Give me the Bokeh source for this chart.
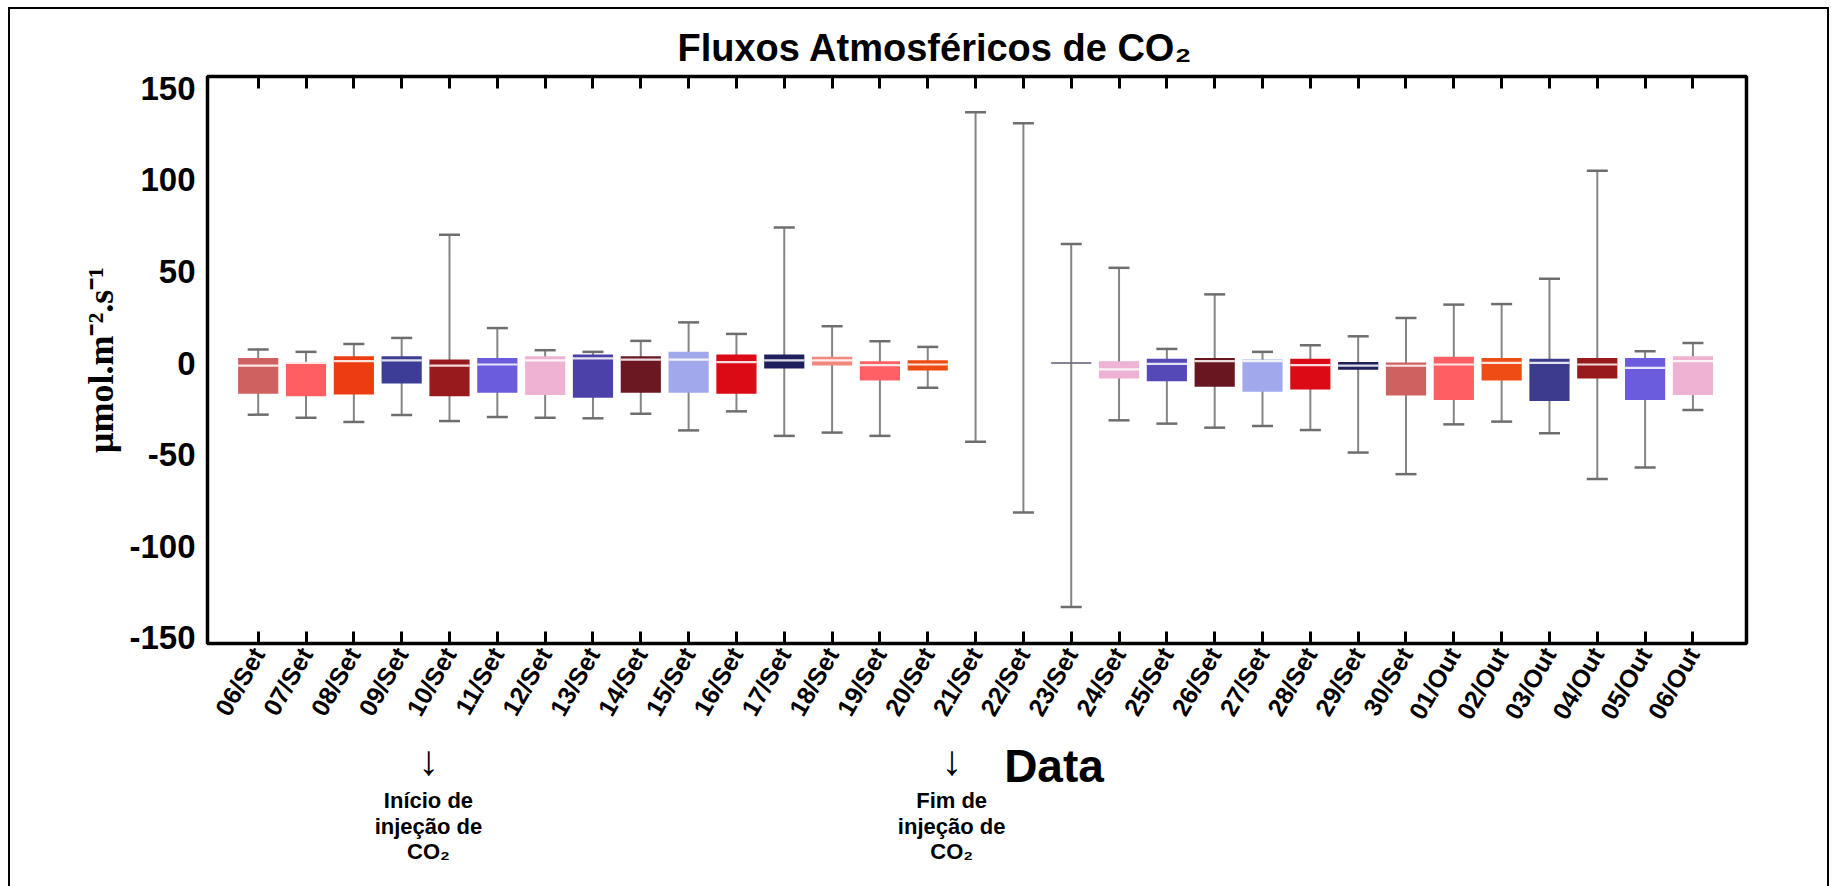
import numpy as np
from bokeh.plotting import figure
from bokeh.layouts import column
from bokeh.models import ColumnDataSource, Range1d, FixedTicker, LinearAxis, Title
from bokeh.core.properties import value
from bokeh.embed import file_html
from bokeh.resources import INLINE

nan = float("nan")

dates = ["06/Set", "07/Set", "08/Set", "09/Set", "10/Set", "11/Set", "12/Set", "13/Set",
         "14/Set", "15/Set", "16/Set", "17/Set", "18/Set", "19/Set", "20/Set", "21/Set",
         "22/Set", "23/Set", "24/Set", "25/Set", "26/Set", "27/Set", "28/Set", "29/Set",
         "30/Set", "01/Out", "02/Out", "03/Out", "04/Out", "05/Out", "06/Out"]

whisker_high = [7.4, 6.1, 10.4, 13.7, 70.0, 19.1, 7.0, 6.1, 12.1, 22.2, 15.9, 74.0, 20.1, 11.9, 8.8,
                137.0, 131.0, 65.0, 52.0, 7.7, 37.5, 6.1, 9.7, 14.6, 24.6, 31.9, 32.2, 46.0, 105.0, 6.4, 11.0]
q3 = [2.8, 0.6, 3.7, 3.7, 1.9, 2.8, 3.7, 4.6, 3.7, 6.1, 4.6, 4.6, 3.4, 1.0, 1.5,
      nan, nan, 0.0, 1.0, 2.3, 2.8, 1.9, 2.3, 0.6, 0.3, 3.4, 2.8, 2.3, 2.8, 2.8, 3.7]
median = [-1.4, 0.1, 1.0, 1.4, -1.4, -0.8, 1.4, 2.5, 1.9, 1.9, 0.5, 1.4, 1.4, -1.2, -0.8,
          nan, nan, 0.0, -3.5, -0.5, 1.0, 1.0, -1.2, -1.4, -1.5, -0.8, 0.1, 0.1, -0.8, -2.6, 1.0]
q1 = [-16.8, -18.1, -17.2, -11.2, -18.1, -16.2, -17.5, -19.0, -16.2, -16.2, -16.8, -3.0, -1.4, -9.5, -4.1,
      nan, nan, 0.0, -8.4, -9.9, -13.0, -15.7, -14.4, -3.7, -17.7, -20.2, -9.5, -20.8, -8.4, -20.2, -17.5]
whisker_low = [-28.2, -29.9, -32.2, -28.4, -31.7, -29.5, -29.9, -30.2, -27.7, -36.8, -26.4, -39.8, -38.0, -39.8, -13.5,
               -43.0, -81.7, -133.3, -31.3, -33.1, -35.3, -34.4, -36.6, -48.9, -60.7, -33.5, -32.0, -38.4, -63.4, -57.1, -25.7]

box_colors = ["#CF6260", "#FF5E62", "#EE3C12", "#3D3C96", "#981A1C", "#6A5CDC", "#F0B2D2", "#4C41A8",
              "#6C1822", "#A1A9EC", "#DC0A14", "#1F1F5E", "#F2877E", "#FF6066", "#EE4C14", "#FFFFFF",
              "#FFFFFF", "#FFFFFF", "#EEB2D4", "#5549B8", "#6A1620", "#A1A9EC", "#DC0A14", "#1F1F5E",
              "#CF6260", "#FF5E62", "#EE4C14", "#3D3C8C", "#981A1C", "#6A5CDC", "#F0B2D2"]
median_colors = ["#FFFFFF"] * 17 + ["#6E6E84"] + ["#FFFFFF"] * 13

y_ticks = [-150, -100, -50, 0, 50, 100, 150]
y_tick_labels = ["-150", "-100", "-50", "0", "50", "100", "150"]

title_text = "Fluxos Atmosféricos de CO₂"
x_title = "Data"
y_title = "μmol.m⁻².s⁻¹"
note_start = ["Início de", "injeção de", "CO₂"]
note_end = ["Fim de", "injeção de", "CO₂"]

xs = np.arange(len(dates))
BOX_W = 0.84

src = ColumnDataSource(dict(
    x=xs, lo=whisker_low, q1=q1, med=median, q3=q3, hi=whisker_high,
    color=box_colors, mcolor=median_colors,
    mx0=xs - BOX_W / 2, mx1=xs + BOX_W / 2,
))

W = 1817
H_MAIN = 724
H_NOTES = 153

p = figure(width=W, height=H_MAIN, output_backend="svg", toolbar_location=None,
           x_range=Range1d(-1.06, 31.12), y_range=Range1d(-153.2, 156.5),
           min_border_left=197, min_border_right=81, min_border_top=67, min_border_bottom=88,
           background_fill_color="white", border_fill_color="white")
p.title = Title(text=title_text, align="left", offset=470, text_font="Liberation Sans",
                text_font_style="bold", text_font_size="38px", text_color="black", standoff=16)
p.xgrid.visible = False
p.ygrid.visible = False
p.outline_line_color = "black"
p.outline_line_width = 3.5
p.outline_line_alpha = 1.0

# bottom axis
xa = p.xaxis[0]
xa.ticker = FixedTicker(ticks=list(xs))
xa.major_label_overrides = {int(i): d for i, d in zip(xs, dates)}
xa.major_label_orientation = 1.05
xa.major_label_text_font = "Liberation Sans"
xa.major_label_text_font_style = "bold"
xa.major_label_text_font_size = "25px"
xa.major_label_text_color = "black"
xa.major_label_standoff = 6
xa.major_tick_in = 12
xa.major_tick_out = 0
xa.major_tick_line_width = 3
xa.major_tick_line_color = "black"
xa.minor_tick_line_color = None
xa.axis_line_color = None

# top ticks (no labels)
top = LinearAxis(ticker=FixedTicker(ticks=list(xs)),
                 major_label_overrides={int(i): "" for i in xs},
                 major_tick_in=12, major_tick_out=0, major_tick_line_width=3,
                 major_tick_line_color="black", minor_tick_line_color=None, axis_line_color=None)
p.add_layout(top, "above")

# left axis
ya = p.yaxis[0]
ya.ticker = FixedTicker(ticks=y_ticks)
ya.major_label_overrides = {t: s for t, s in zip(y_ticks, y_tick_labels)}
ya.major_label_text_font = "Liberation Sans"
ya.major_label_text_font_style = "bold"
ya.major_label_text_font_size = "33px"
ya.major_label_text_color = "black"
ya.major_label_standoff = 12
ya.major_tick_in = 0
ya.major_tick_out = 0
ya.minor_tick_line_color = None
ya.axis_line_color = None
ya.axis_label = y_title
ya.axis_label_text_font = "Liberation Serif"
ya.axis_label_text_font_style = "bold"
ya.axis_label_text_font_size = "36px"
ya.axis_label_text_color = "black"
ya.axis_label_standoff = 5

# box plot pieces
p.segment(x0="x", y0="lo", x1="x", y1="hi", source=src, line_color="#858585", line_width=2.0)
p.scatter(x="x", y="hi", source=src, marker="dash", size=21, line_color="#6E6E6E", line_width=2.5)
p.scatter(x="x", y="lo", source=src, marker="dash", size=21, line_color="#6E6E6E", line_width=2.5)
p.vbar(x="x", width=BOX_W, bottom="q1", top="q3", source=src, fill_color="color", line_color=None)
p.segment(x0="mx0", y0="med", x1="mx1", y1="med", source=src, line_color="mcolor", line_width=2.2, line_alpha=0.85)

# notes strip below the axis (shares the x scale); y counts pixels down from its top
p2 = figure(width=W, height=H_NOTES, output_backend="svg", toolbar_location=None,
            x_range=p.x_range, y_range=Range1d(H_NOTES, 0),
            min_border_left=197, min_border_right=81, min_border_top=0, min_border_bottom=0,
            x_axis_type=None, y_axis_type=None,
            background_fill_color="white", border_fill_color="white")
p2.outline_line_color = None
p2.grid.visible = False

p2.text(x=[16.64], y=[32], text=[x_title], text_align="center", text_baseline="middle",
        text_font=value("Liberation Sans"), text_font_style="bold", text_font_size="46px", text_color="black")
p2.text(x=[3.56, 14.5], y=[27, 27], text=["↓", "↓"], text_align="center", text_baseline="middle",
        text_font=value("Liberation Sans"), text_font_size="42px", text_color="black")
for xpos, lines in ((3.56, note_start), (14.5, note_end)):
    p2.text(x=[xpos] * len(lines), y=[67, 92.5, 118], text=lines, text_align="center", text_baseline="middle",
            text_font=value("Liberation Sans"), text_font_style="bold", text_font_size="22px", text_color="black")

layout = column(p, p2, margin=(7, 0, 0, 8),
                styles={"border-top": "2px solid black", "border-left": "2px solid black",
                        "border-right": "2px solid black"})

open("out.html", "w").write(file_html(layout, INLINE))
